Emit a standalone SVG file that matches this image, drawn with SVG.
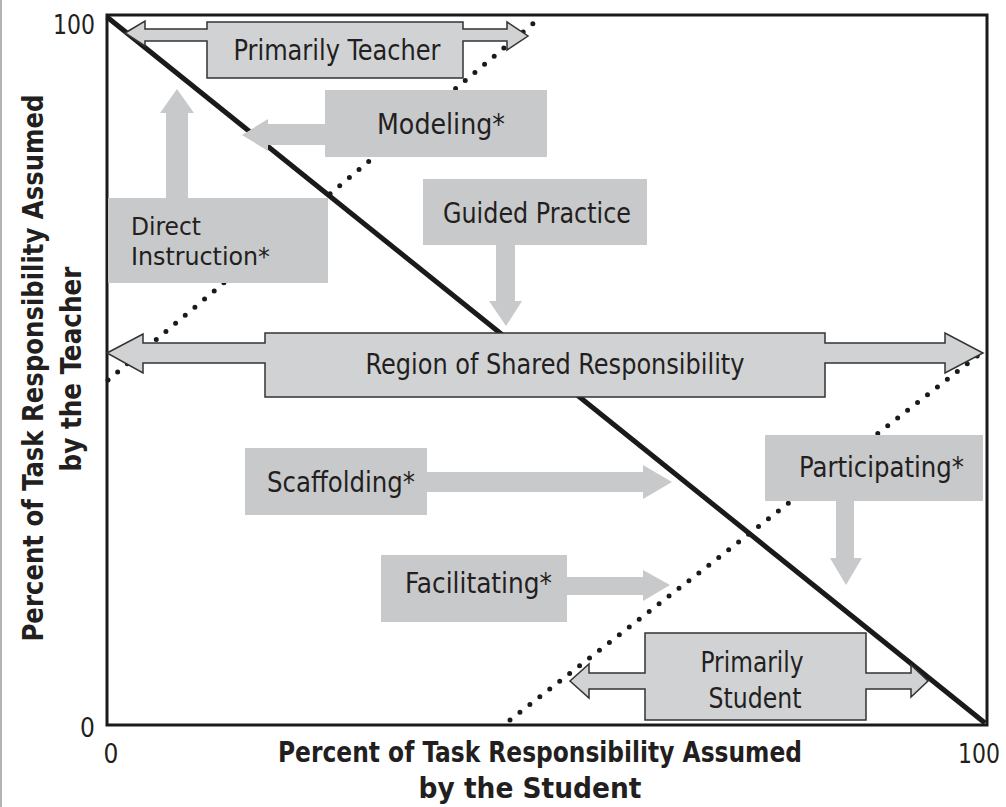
<svg xmlns="http://www.w3.org/2000/svg" width="1006" height="807" viewBox="0 0 1006 807">
<style>
.t{font-family:"DejaVu Sans Condensed","DejaVu Sans","Liberation Sans",sans-serif;font-stretch:condensed;fill:#231f20;font-size:28.5px}
.b{font-weight:bold;font-size:28px}
.n{font-size:26px}
.s{font-size:25px}
.plain{fill:#c8c9cb}
.outl{fill:#d1d2d4;stroke:#333;stroke-width:1.5;stroke-linejoin:miter}
.dots{fill:none;stroke:#1a1a1a;stroke-width:5;stroke-linecap:round;stroke-dasharray:0 12.6}
</style>
<rect x="0" y="0" width="1006" height="807" fill="#fff"/>
<line x1="1" y1="0" x2="1" y2="807" stroke="#9a9a9a" stroke-width="1.5"/>
<g id="axes">
<rect x="107" y="15" width="880" height="710" fill="none" stroke="#1a1a1a" stroke-width="3"/>
<text class="t n" x="95" y="34" text-anchor="end" textLength="42" lengthAdjust="spacingAndGlyphs">100</text>
<text class="t n" x="95" y="737" text-anchor="end">0</text>
<text class="t n" x="111" y="763" text-anchor="middle">0</text>
<text class="t n" x="979" y="763" text-anchor="middle" textLength="42" lengthAdjust="spacingAndGlyphs">100</text>
<text class="t b" x="540" y="762" text-anchor="middle" textLength="524" lengthAdjust="spacingAndGlyphs">Percent of Task Responsibility Assumed</text>
<text class="t b" x="530" y="798" text-anchor="middle" textLength="223" lengthAdjust="spacingAndGlyphs">by the Student</text>
<text class="t b" transform="translate(43,368) rotate(-90)" x="0" y="0" text-anchor="middle" textLength="547" lengthAdjust="spacingAndGlyphs">Percent of Task Responsibility Assumed</text>
<text class="t b" transform="translate(81,369) rotate(-90)" x="0" y="0" text-anchor="middle" textLength="205" lengthAdjust="spacingAndGlyphs">by the Teacher</text>
</g>
<g id="connectors">
<line class="dots" x1="108" y1="380" x2="535" y2="22"/>
<line class="dots" x1="510" y1="720" x2="985" y2="350"/>
<line x1="107" y1="17" x2="985" y2="723" stroke="#1a1a1a" stroke-width="5"/>
</g>
<g id="primarily-teacher">
<polygon class="outl" points="125,33 145,21 145,29 207,29 207,22 463,22 463,29 507,29 507,22 528,36 507,50 507,41 463,41 463,78 207,78 207,41 145,41 145,46"/>
<text class="t" x="337" y="60" text-anchor="middle" textLength="207" lengthAdjust="spacingAndGlyphs">Primarily Teacher</text>
</g>
<g id="modeling">
<rect class="plain" x="325" y="90" width="222" height="67"/>
<polygon class="plain" points="325,124 268,124 268,119 242,135 268,151 268,145 325,145"/>
<text class="t" x="441" y="134" text-anchor="middle" textLength="128" lengthAdjust="spacingAndGlyphs">Modeling*</text>
</g>
<g id="direct-instruction">
<rect class="plain" x="108" y="198" width="220" height="85"/>
<polygon class="plain" points="166,198 166,113 160,113 177,89 194,113 188,113 188,198"/>
<text class="t s" x="131" y="235" textLength="70" lengthAdjust="spacingAndGlyphs">Direct</text>
<text class="t s" x="131" y="265" textLength="139" lengthAdjust="spacingAndGlyphs">Instruction*</text>
</g>
<g id="guided-practice">
<rect class="plain" x="423" y="179" width="224" height="66"/>
<polygon class="plain" points="496,245 496,301 489,301 506,326 522,301 515,301 515,245"/>
<text class="t" x="537" y="223" text-anchor="middle" textLength="188" lengthAdjust="spacingAndGlyphs">Guided Practice</text>
</g>
<g id="shared-responsibility">
<polygon class="outl" points="107,353 143,334 143,343 265,343 265,333 825,333 825,343 945,343 945,333 983,353 945,373 945,363 825,363 825,397 265,397 265,363 143,363 143,373"/>
<text class="t" x="555" y="374" text-anchor="middle" textLength="379" lengthAdjust="spacingAndGlyphs">Region of Shared Responsibility</text>
</g>
<g id="scaffolding">
<rect class="plain" x="245" y="448" width="182" height="67"/>
<polygon class="plain" points="427,472 643,472 643,465 672,482 643,499 643,492 427,492"/>
<text class="t" x="267" y="492" textLength="148" lengthAdjust="spacingAndGlyphs">Scaffolding*</text>
</g>
<g id="facilitating">
<rect class="plain" x="381" y="555" width="186" height="67"/>
<polygon class="plain" points="567,577 643,577 643,570 670,585 643,601 643,595 567,595"/>
<text class="t" x="405" y="593" textLength="147" lengthAdjust="spacingAndGlyphs">Facilitating*</text>
</g>
<g id="participating">
<rect class="plain" x="765" y="435" width="218" height="66"/>
<polygon class="plain" points="836,501 836,558 830,558 846,585 862,558 854,558 854,501"/>
<text class="t" x="799" y="477" textLength="165" lengthAdjust="spacingAndGlyphs">Participating*</text>
</g>
<g id="primarily-student">
<polygon class="outl" points="570,681 589,664 589,673 645,673 645,633 866,633 866,673 911,673 911,665 928,681 911,697 911,689 866,689 866,720 645,720 645,689 589,689 589,698"/>
<text class="t" x="752" y="672" text-anchor="middle" textLength="103" lengthAdjust="spacingAndGlyphs">Primarily</text>
<text class="t" x="755" y="708" text-anchor="middle" textLength="93" lengthAdjust="spacingAndGlyphs">Student</text>
</g>
</svg>
